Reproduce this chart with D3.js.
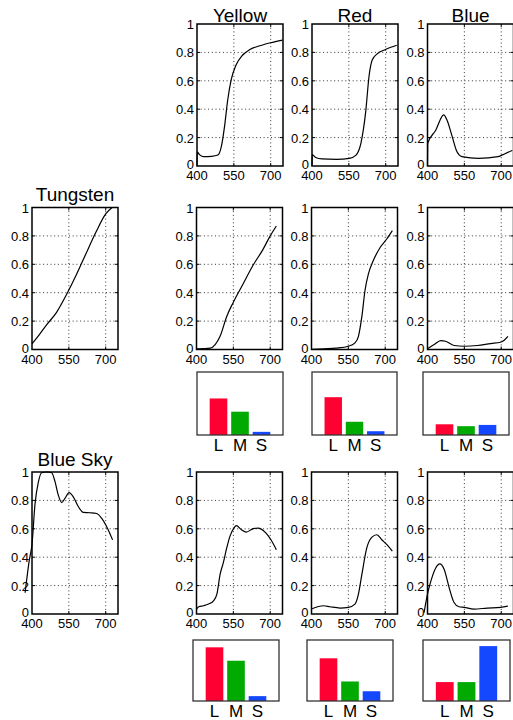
<!DOCTYPE html>
<html>
<head>
<meta charset="utf-8">
<script src="https://cdn.jsdelivr.net/npm/d3@7"></script>
<style>
    body { margin: 0; background: #fff; }
    text { font-family: "Liberation Sans", Arial, sans-serif; }
</style>
</head>
<body>
<script>
// tick labels
const xTicks = [400, 550, 700];
const yTicks = [0, 0.2, 0.4, 0.6, 0.8, 1];
const cones = ["L", "M", "S"];
const coneColors = ["#ff0033", "#00aa00", "#1448ff"];

// illuminants  [wavelength nm, relative power]
const tungsten = [[400, 0.04], [430, 0.105], [460, 0.175], [500, 0.262], [540, 0.385], [580, 0.524],
    [620, 0.676], [660, 0.825], [700, 0.955], [726, 1.0]];
const blueSky = [[372, 0.15], [389, 0.38], [400, 0.49], [412, 0.77], [426, 0.93], [439, 0.995], [460, 1.0],
    [480, 0.995], [494, 0.93], [507, 0.837], [521, 0.785], [534, 0.814], [551, 0.855], [568, 0.825],
    [589, 0.755], [609, 0.715], [636, 0.713], [663, 0.708], [684, 0.673], [704, 0.615], [728, 0.522]];

// surface reflectances
const yellowRefl = [[400, 0], [401, 0.1], [410, 0.08], [425, 0.066], [460, 0.068], [485, 0.077], [499, 0.136],
    [512, 0.277], [525, 0.465], [539, 0.606], [559, 0.711], [585, 0.78], [612, 0.817], [652, 0.845],
    [699, 0.868], [748, 0.887]];
const redRefl = [[400, 0], [401, 0.08], [415, 0.06], [440, 0.05], [500, 0.047], [552, 0.054], [579, 0.077],
    [599, 0.16], [619, 0.39], [632, 0.63], [645, 0.746], [665, 0.79], [699, 0.82], [745, 0.85]];
const blueRefl = [[400, 0], [401, 0.16], [433, 0.25], [466, 0.36], [480, 0.32], [500, 0.21], [520, 0.1],
    [540, 0.066], [607, 0.054], [687, 0.066], [713, 0.085], [745, 0.11]];

// reflected light under tungsten
const yellowTung = [[400, 0.005], [456, 0.01], [476, 0.035], [496, 0.093], [523, 0.233], [549, 0.33],
    [589, 0.46], [629, 0.59], [669, 0.7], [700, 0.8], [725, 0.87]];
const redTung = [[400, 0.0], [450, 0.005], [500, 0.01], [550, 0.023], [577, 0.047], [591, 0.093], [605, 0.233],
    [618, 0.419], [632, 0.535], [652, 0.628], [680, 0.72], [707, 0.78], [729, 0.837]];
const blueTung = [[400, 0.005], [427, 0.035], [454, 0.063], [474, 0.058], [508, 0.028], [549, 0.023],
    [603, 0.028], [657, 0.042], [697, 0.051], [712, 0.065], [727, 0.093]];

// reflected light under blue sky
const yellowSky = [[400, 0.035], [409, 0.051], [429, 0.058], [449, 0.07], [469, 0.093], [483, 0.14],
    [496, 0.279], [509, 0.36], [523, 0.465], [536, 0.547], [552, 0.605], [562, 0.622], [583, 0.593],
    [603, 0.577], [629, 0.6], [650, 0.605], [683, 0.57], [703, 0.523], [725, 0.453]];
const redSky = [[400, 0.035], [449, 0.058], [475, 0.051], [516, 0.042], [550, 0.047], [577, 0.07], [591, 0.14],
    [605, 0.279], [625, 0.465], [645, 0.54], [666, 0.558], [686, 0.523], [707, 0.488], [729, 0.442]];
const blueSkyRefl = [[386, 0.01], [400, 0.14], [414, 0.233], [434, 0.326], [450, 0.353], [468, 0.314],
    [488, 0.186], [508, 0.081], [528, 0.051], [549, 0.047], [589, 0.035], [643, 0.042], [697, 0.047], [727, 0.056]];

// cone responses L, M, S
const tungYellowBars = [0.58, 0.37, 0.05];
const tungRedBars = [0.60, 0.21, 0.06];
const tungBlueBars = [0.17, 0.14, 0.16];
const skyYellowBars = [0.88, 0.66, 0.08];
const skyRedBars = [0.70, 0.32, 0.16];
const skyBlueBars = [0.31, 0.31, 0.90];

const width = 513;
const height = 720;
const panelW = 86;
const panelH = 142;

let svg = d3.select("body").append("svg")
    .attr("width", width)
    .attr("height", height);

let line = d3.line().curve(d3.curveMonotoneX);

function spectrum(px, py, data, title, titleY) {
    let x = d3.scaleLinear().domain([400, 750]).range([px, px + panelW]);
    let y = d3.scaleLinear().domain([0, 1]).range([py + panelH, py]);
    let g = svg.append("g");

    // dotted grid
    g.selectAll(".gx").data(xTicks.slice(1)).enter().append("line")
        .attr("x1", d => x(d)).attr("x2", d => x(d))
        .attr("y1", py).attr("y2", py + panelH)
        .attr("stroke", "#333").attr("stroke-width", 1)
        .attr("stroke-dasharray", "1,2.7");
    g.selectAll(".gy").data(yTicks.slice(1, -1)).enter().append("line")
        .attr("x1", px).attr("x2", px + panelW)
        .attr("y1", d => y(d)).attr("y2", d => y(d))
        .attr("stroke", "#333").attr("stroke-width", 1)
        .attr("stroke-dasharray", "1,2.7");

    // inner ticks
    g.selectAll(".tx").data(xTicks.slice(1)).enter().append("path")
        .attr("d", d => `M${x(d)},${py + panelH}v-3M${x(d)},${py}v3`)
        .attr("stroke", "#000");
    g.selectAll(".ty").data(yTicks.slice(1, -1)).enter().append("path")
        .attr("d", d => `M${px},${y(d)}h3M${px + panelW},${y(d)}h-3`)
        .attr("stroke", "#000");

    g.append("rect")
        .attr("x", px).attr("y", py)
        .attr("width", panelW).attr("height", panelH)
        .attr("fill", "none").attr("stroke", "#000").attr("stroke-width", 1.5);

    // tick labels
    g.selectAll(".lx").data(xTicks).enter().append("text")
        .attr("x", d => x(d)).attr("y", py + panelH + 14)
        .attr("text-anchor", "middle")
        .style("font-size", "13px")
        .text(d => d);
    g.selectAll(".ly").data(yTicks).enter().append("text")
        .attr("x", px - 3).attr("y", d => y(d) + (d === 0 ? 3 : 5))
        .attr("text-anchor", "end")
        .style("font-size", "13px")
        .text(d => d);

    if (title) {
        g.append("text")
            .attr("x", px + panelW / 2).attr("y", titleY)
            .attr("text-anchor", "middle")
            .style("font-size", "19px")
            .text(title);
    }

    g.append("path")
        .attr("fill", "none")
        .attr("stroke", "#000")
        .attr("stroke-width", 1.2)
        .attr("stroke-linejoin", "round")
        .attr("d", line(data.map(d => [x(d[0]), y(d[1])])));
}

function bars(px, py, pw, ph, values) {
    let x = d3.scaleLinear().domain([0, 4]).range([px, px + pw]);
    let y = d3.scaleLinear().domain([0, 1]).range([py + ph, py]);
    let bw = x(0.82) - x(0);
    let g = svg.append("g");

    g.selectAll(".bar").data(values).enter().append("rect")
        .attr("x", (d, i) => x(i + 1) - bw / 2)
        .attr("y", d => y(d))
        .attr("width", bw)
        .attr("height", d => y(0) - y(d))
        .attr("fill", (d, i) => coneColors[i]);

    g.append("rect")
        .attr("x", px).attr("y", py)
        .attr("width", pw).attr("height", ph)
        .attr("fill", "none").attr("stroke", "#333").attr("stroke-width", 1.3);

    g.selectAll(".lab").data(cones).enter().append("text")
        .attr("x", (d, i) => x(i + 1))
        .attr("y", py + ph + 16)
        .attr("text-anchor", "middle")
        .style("font-size", "17px")
        .text(d => d);
}

// top row: reflectances
spectrum(197, 24, yellowRefl, "Yellow", 22);
spectrum(312, 24, redRefl, "Red", 22);
spectrum(427.5, 24, blueRefl, "Blue", 22);

// tungsten row
spectrum(32, 207.5, tungsten, "Tungsten", 201);
spectrum(196.5, 207.5, yellowTung);
spectrum(311.5, 207.5, redTung);
spectrum(427.5, 207.5, blueTung);

bars(197, 372, 86, 63, tungYellowBars);
bars(312, 372, 85, 63, tungRedBars);
bars(423, 372, 86, 63, tungBlueBars);

// blue sky row
spectrum(32, 472, blueSky, "Blue Sky", 466);
spectrum(196.5, 472, yellowSky);
spectrum(311.5, 472, redSky);
spectrum(427.5, 472, blueSkyRefl);

bars(193, 640, 86, 61, skyYellowBars);
bars(307, 640, 86, 61, skyRedBars);
bars(423, 640, 87, 61, skyBlueBars);
</script>
</body>
</html>
